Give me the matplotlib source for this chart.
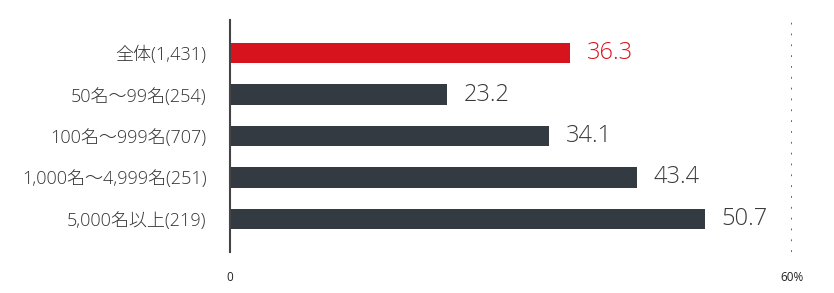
import matplotlib
matplotlib.use("Agg")
import matplotlib.pyplot as plt

categories = ["全体(1,431)", "50名～99名(254)", "100名～999名(707)", "1,000名～4,999名(251)", "5,000名以上(219)"]
values = [36.3, 23.2, 34.1, 43.4, 50.7]
colors = ["#d7141e", "#343a42", "#343a42", "#343a42", "#343a42"]
label_colors = ["#d7141e", "#3a3a3a", "#3a3a3a", "#3a3a3a", "#3a3a3a"]
xticks = [0, 60]
xtick_labels = ["0", "60%"]

fam = ["Open Sans", "Noto Sans CJK JP", "DejaVu Sans"]
plt.rcParams["font.family"] = fam

fig = plt.figure(figsize=(8.34, 2.93), dpi=100)
ax = fig.add_axes([230/834, 1-252/293, (792-230)/834, (252-20)/293])

y = list(range(len(categories)))
ax.barh(y, values, height=0.49, color=colors, zorder=2)
for yi, v, c in zip(y, values, label_colors):
    ax.text(v + 1.8, yi, f"{v:.1f}", va="center", ha="left", fontsize=17, color=c, fontweight="light")

ax.set_xlim(0, 60)
ax.set_ylim(len(categories) - 0.2, -0.8)
ax.set_yticks(y)
ax.set_yticklabels(categories, fontsize=13, color="#333333", fontweight="light")
ax.tick_params(axis="y", length=0, pad=17)
ax.set_xticks(xticks)
ax.set_xticklabels(xtick_labels, fontsize=8.5, color="#222222")
ax.tick_params(axis="x", length=0, pad=14)

for s in ["top", "right", "bottom"]:
    ax.spines[s].set_visible(False)
ax.spines["left"].set_color("#444444")
ax.spines["left"].set_linewidth(1.5)
ax.axvline(60, color="#555555", linestyle=(0, (1, 5)), linewidth=1.3)

fig.savefig("out.png", dpi=100, facecolor="white")
